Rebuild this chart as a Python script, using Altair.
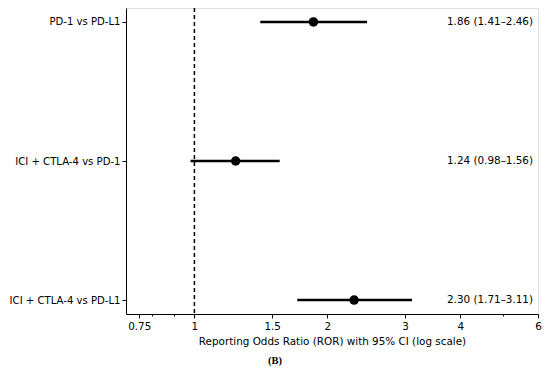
import altair as alt
import pandas as pd

comparisons = ["PD-1 vs PD-L1", "ICI + CTLA-4 vs PD-1", "ICI + CTLA-4 vs PD-L1"]
ror = [1.86, 1.24, 2.30]
ci_low = [1.41, 0.98, 1.71]
ci_high = [2.46, 1.56, 3.11]
labels = ["1.86 (1.41–2.46)", "1.24 (0.98–1.56)", "2.30 (1.71–3.11)"]
x_ticks = [0.75, 0.8, 0.9, 1, 1.5, 2, 3, 4, 5, 6]
minor_ticks = [0.8, 0.9, 5]
ref_line = [1.0]

df = pd.DataFrame({"comp": comparisons, "ror": ror, "lo": ci_low, "hi": ci_high, "label": labels})
ref = pd.DataFrame({"x": ref_line})

FONT = "DejaVu Sans"
FS = 10.4
W, H = 412, 306

xscale = alt.Scale(type="log", domain=[0.7, 6], nice=False)
yscale = alt.Scale(type="point", domain=comparisons, padding=0.1)

minor_test = "indexof(" + str(minor_ticks) + ", datum.value) >= 0"

xaxis = alt.Axis(
    values=x_ticks,
    labelExpr=f"{minor_test} ? '' : format(datum.value, '')",
    tickSize={"condition": {"test": minor_test, "value": 2}, "value": 4},
    grid=False,
    title="Reporting Odds Ratio (ROR) with 95% CI (log scale)",
    titleFont=FONT, titleFontSize=FS, titleFontWeight="normal", titleColor="black",
    labelFont=FONT, labelFontSize=FS, labelColor="black",
    domainColor="black", tickColor="black", labelPadding=3, titlePadding=5,
    labelFlush=False,
)
yaxis = alt.Axis(
    title=None, grid=False, labelFont=FONT, labelFontSize=10.1, labelColor="black",
    domainColor="black", tickColor="black", tickSize=4, labelPadding=2, labelLimit=0,
)

base = alt.Chart(df)

refline = alt.Chart(ref).mark_rule(color="black", strokeDash=[4, 3], strokeWidth=1.5).encode(
    x=alt.X("x:Q", scale=xscale, axis=xaxis)
)

bars = base.mark_rule(color="black", strokeWidth=2.5).encode(
    x=alt.X("lo:Q", scale=xscale, axis=xaxis),
    x2="hi:Q",
    y=alt.Y("comp:N", scale=yscale, axis=yaxis, sort=comparisons),
)

points = base.mark_circle(color="black", opacity=1, size=90).encode(
    x=alt.X("ror:Q", scale=xscale, axis=xaxis),
    y=alt.Y("comp:N", scale=yscale, axis=yaxis, sort=comparisons),
)

text = base.mark_text(align="left", baseline="middle", font=FONT, fontSize=FS, color="black").encode(
    x=alt.value(321),
    y=alt.Y("comp:N", scale=yscale, axis=yaxis, sort=comparisons),
    text="label:N",
)

chart = alt.layer(refline, bars, points, text).properties(
    width=W,
    height=H,
    autosize=alt.AutoSizeParams(type="none"),
    padding={"left": 118, "top": 0, "right": 4, "bottom": 52},
    title=alt.TitleParams(
        "(B)", orient="bottom", anchor="middle", font="Liberation Serif", fontSize=10.5,
        fontWeight="bold", color="black", dx=-57, offset=9,
    ),
).configure_view(stroke=None).configure(background="white")

chart.save("out.html", embed_options={"renderer": "svg", "actions": False})
